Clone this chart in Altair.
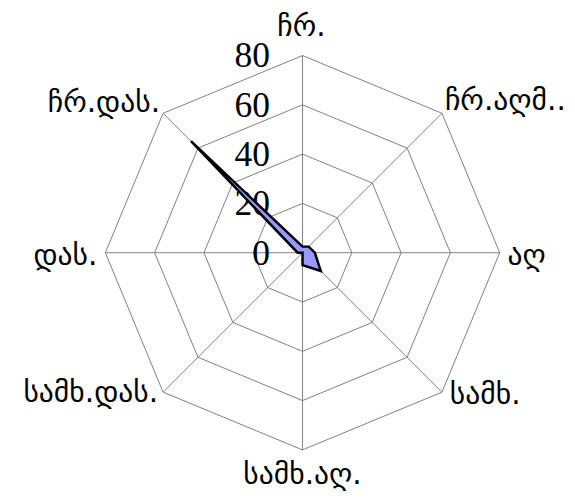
import altair as alt
import pandas as pd

# Wind-rose style radar chart (clockwise from top)
directions = ["ჩრ.", "ჩრ.აღმ..", "აღ", "სამხ.", "სამხ.აღ.", "სამხ.დას.", "დას.", "ჩრ.დას."]
values = [2.5, 3.5, 5, 10.5, 5, 0, 2, 64]
ticks = [0, 20, 40, 60, 80]

n = len(directions)
idx = list(range(n))
series_df = pd.DataFrame({"i": idx, "dir": directions, "value": values})
ring_df = pd.DataFrame([{"ring": t, "i": k} for t in ticks[1:] for k in range(n + 1)])
spoke_df = pd.DataFrame({"i": idx, "dir": directions})
tick_df = pd.DataFrame({"tick": ticks})
rmax = ticks[-1]
step = f"(2*PI/{n})"

x_scale = alt.Scale(domain=[-115.5, 100.1], nice=False, zero=False)
y_scale = alt.Scale(domain=[-92.5, 93.9], nice=False, zero=False)


def X(f):
    return alt.X(f, type="quantitative", scale=x_scale, axis=None)


def Y(f):
    return alt.Y(f, type="quantitative", scale=y_scale, axis=None)


rings = alt.Chart(ring_df).transform_calculate(
    x=f"datum.ring*sin(datum.i*{step})", y=f"datum.ring*cos(datum.i*{step})"
).mark_line(color="#808080", strokeWidth=1).encode(
    x=X("x"), y=Y("y"), detail="ring:N", order="i:Q"
)

spokes = alt.Chart(spoke_df).transform_calculate(
    x0="0", y0="0",
    x2=f"{rmax}*sin(datum.i*{step})", y2=f"{rmax}*cos(datum.i*{step})"
).mark_rule(color="#808080", strokeWidth=1).encode(
    x=X("x0"), y=Y("y0"), x2="x2:Q", y2="y2:Q"
)

tick_text = alt.Chart(tick_df).transform_calculate(x0="0").mark_text(
    align="right", baseline="middle", dx=-33, dy=1,
    font="Liberation Serif", fontSize=36, color="black"
).encode(x=X("x0"), y=Y("tick"), text="tick:Q")

polygon = alt.Chart(series_df).transform_calculate(
    x=f"datum.value*sin(datum.i*{step})", y=f"datum.value*cos(datum.i*{step})"
).mark_line(
    interpolate="linear-closed", fill="#9999ff", stroke="black",
    strokeWidth=2.5, strokeJoin="miter"
).encode(x=X("x"), y=Y("y"), order="i:Q")

label_style = {
    0: dict(align="center", dx=-1, dy=-29),
    1: dict(align="left", dx=3, dy=-12),
    2: dict(align="left", dx=8, dy=3),
    3: dict(align="left", dx=8, dy=3),
    4: dict(align="center", dx=0, dy=26),
    5: dict(align="right", dx=-5, dy=1),
    6: dict(align="right", dx=-8, dy=3),
    7: dict(align="right", dx=-3, dy=-10),
}

label_layers = []
for i in idx:
    st = label_style[i]
    label_layers.append(
        alt.Chart(spoke_df).transform_filter(f"datum.i == {i}").transform_calculate(
            x=f"{rmax}*sin(datum.i*{step})", y=f"{rmax}*cos(datum.i*{step})"
        ).mark_text(
            align=st["align"], baseline="middle", dx=st["dx"], dy=st["dy"],
            font="DejaVu Sans", fontSize=30, color="black"
        ).encode(x=X("x"), y=Y("y"), text="dir:N")
    )

chart = alt.layer(rings, spokes, tick_text, polygon, *label_layers).properties(
    width=539, height=466,
    padding={"left": 10, "top": 10, "right": 18, "bottom": 10},
    autosize=alt.AutoSizeParams(type="none"),
).configure_view(stroke=None)

chart.save("out.html", embed_options={"renderer": "svg", "actions": False})
